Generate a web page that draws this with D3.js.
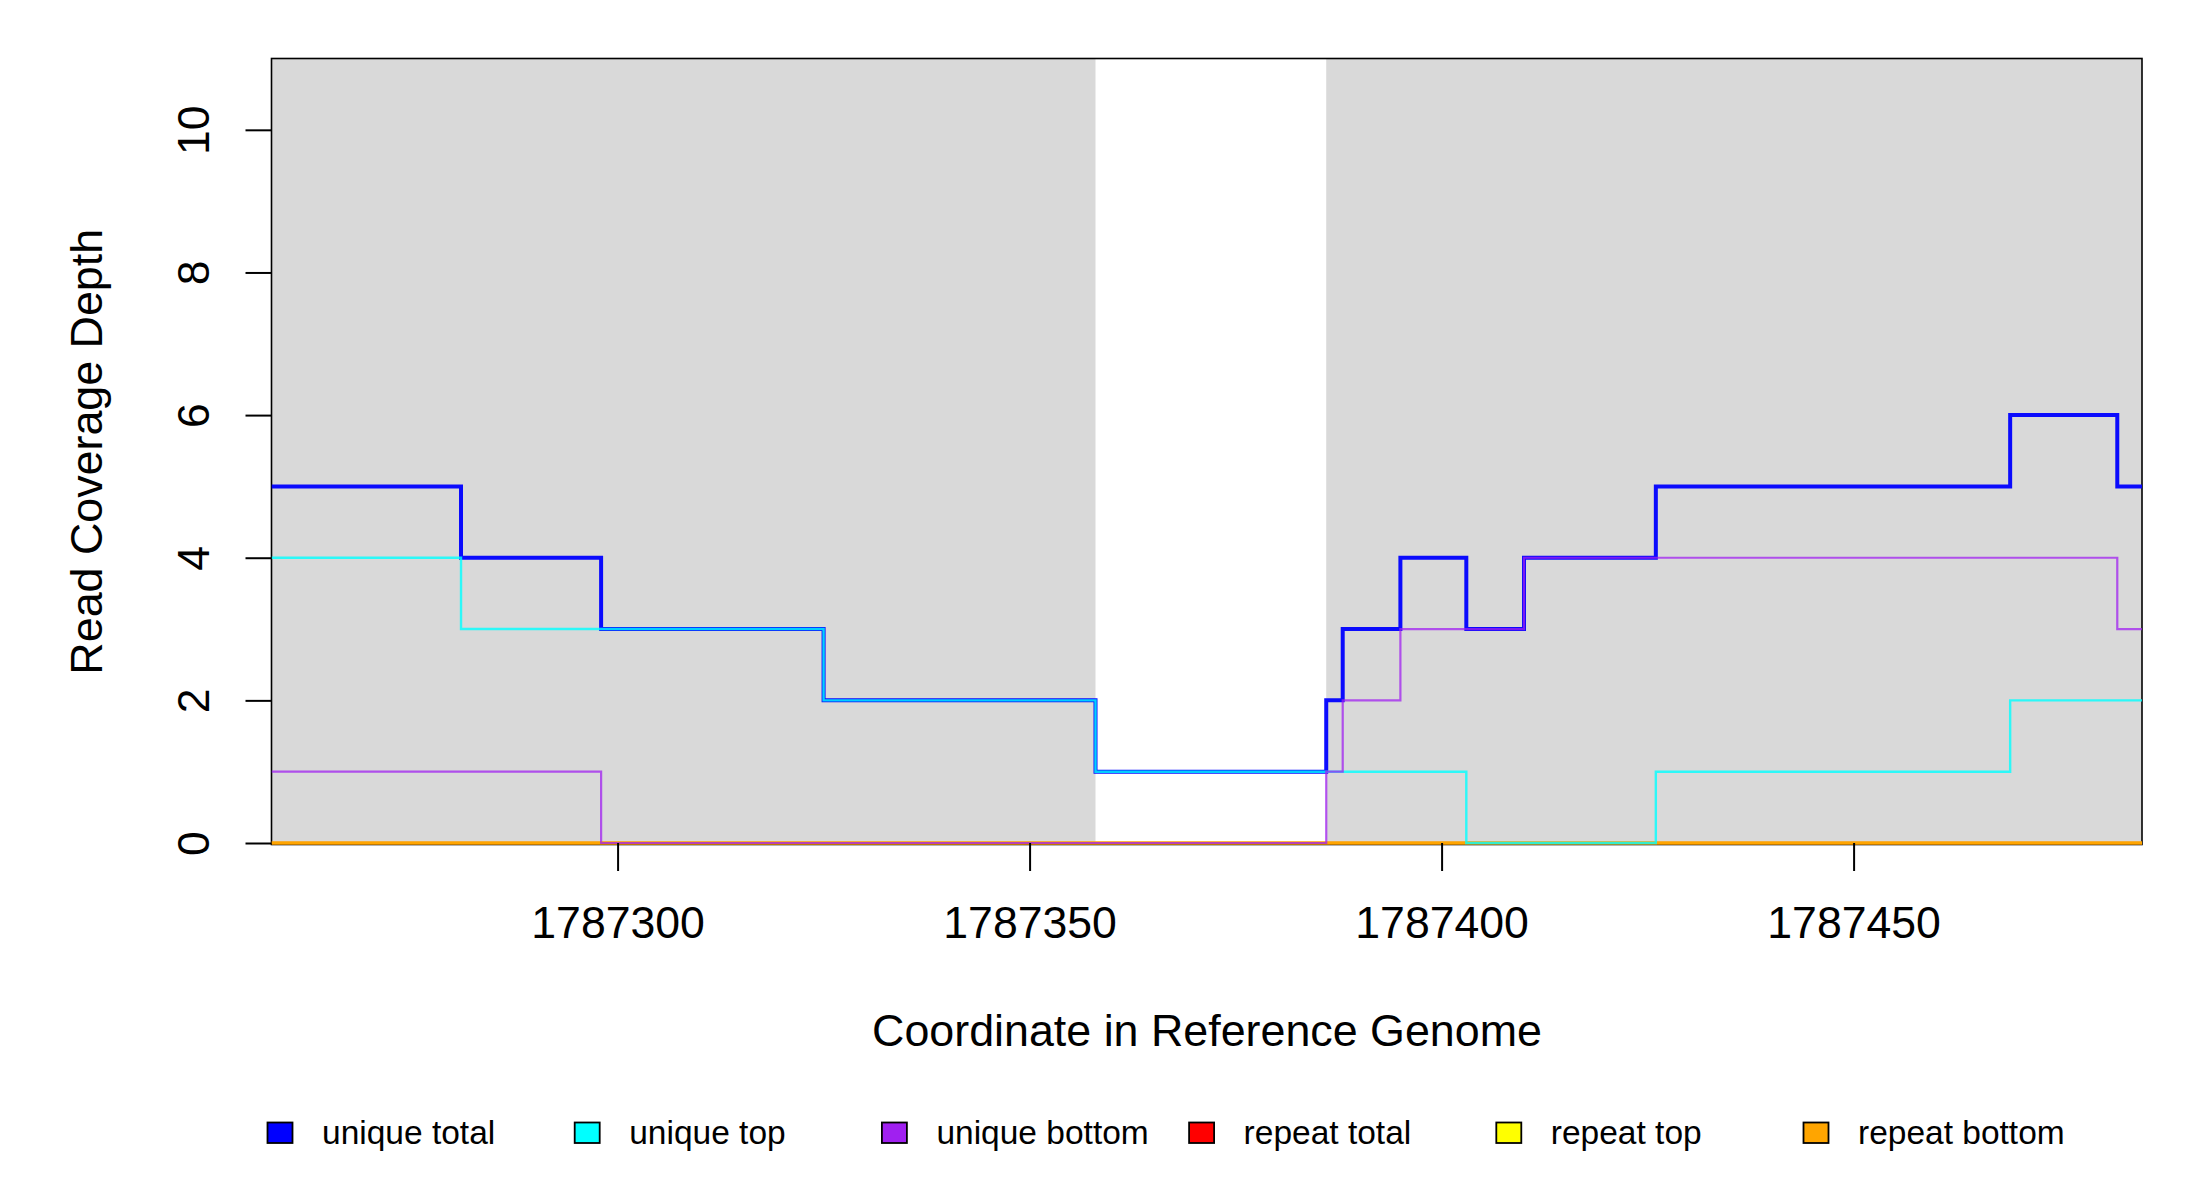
<!DOCTYPE html>
<html>
<head>
<meta charset="utf-8">
<script src="https://cdn.jsdelivr.net/npm/d3@7"></script>
<style>
  html, body { margin: 0; padding: 0; background: #fff; }
  svg { display: block; font-family: "Liberation Sans", Arial, sans-serif; }
</style>
</head>
<body>
<svg id="chart" width="2200" height="1200"></svg>
<script>
// ---- data ----
const breakpoints = [1787258, 1787281, 1787298, 1787325, 1787358, 1787386, 1787388, 1787395, 1787403, 1787410, 1787426, 1787469, 1787482, 1787485];
const uniqueTotal  = [5, 4, 3, 2, 1, 2, 3, 4, 3, 4, 5, 6, 5];
const uniqueTop    = [4, 3, 3, 2, 1, 1, 1, 1, 0, 0, 1, 2, 2];
const uniqueBottom = [1, 1, 0, 0, 0, 1, 2, 3, 3, 4, 4, 4, 3];
const repeatTotal  = [0, 0, 0, 0, 0, 0, 0, 0, 0, 0, 0, 0, 0];
const repeatTop    = [0, 0, 0, 0, 0, 0, 0, 0, 0, 0, 0, 0, 0];
const repeatBottom = [0, 0, 0, 0, 0, 0, 0, 0, 0, 0, 0, 0, 0];
const shadedStarts = [1787258, 1787386];
const shadedEnds   = [1787358, 1787485];
const xDomain = [1787258, 1787485];
const yDomain = [0, 11];
const xTicks = [1787300, 1787350, 1787400, 1787450];
const yTicks = [0, 2, 4, 6, 8, 10];
const seriesNames = ["unique total", "unique top", "unique bottom", "repeat total", "repeat top", "repeat bottom"];
const seriesColors = ["#0000FF", "#00FFFF", "#A020F0", "#FF0000", "#FFFF00", "#FFA500"];

// ---- layout ----
const L = 271.5, R = 2142, T = 58.5, B = 843;
const svg = d3.select("#chart");
const x = d3.scaleLinear().domain(xDomain).range([L, R]);
const y = d3.scaleLinear().domain(yDomain).range([B, T]);

svg.append("defs").append("clipPath").attr("id", "clip")
  .append("rect").attr("x", L).attr("y", T).attr("width", R - L).attr("height", B - T + 2);

// shaded regions
svg.append("g").selectAll("rect")
  .data(shadedStarts.map((s, i) => [s, shadedEnds[i]]))
  .join("rect")
  .attr("x", d => x(d[0]))
  .attr("width", d => x(d[1]) - x(d[0]))
  .attr("y", T).attr("height", B - T)
  .attr("fill", "#D9D9D9");

// box
svg.append("rect").attr("x", L).attr("y", T).attr("width", R - L).attr("height", B - T + 1.5)
  .attr("fill", "none").attr("stroke", "#000").attr("stroke-width", 1.6);

// lines
const line = d3.line().x(d => x(d[0])).y(d => y(d[1])).curve(d3.curveStepAfter);
function pts(vals) {
  const p = vals.map((v, i) => [breakpoints[i], v]);
  p.push([breakpoints[breakpoints.length - 1], vals[vals.length - 1]]);
  return p;
}
const series = [
  { vals: repeatTotal,  color: seriesColors[3], w: 3, op: 0.6 },
  { vals: repeatTop,    color: seriesColors[4], w: 3, op: 0.6 },
  { vals: repeatBottom, color: seriesColors[5], w: 3, op: 1 },
  { vals: uniqueTotal,  color: seriesColors[0], w: 4,   op: 0.95 },
  { vals: uniqueTop,    color: seriesColors[1], w: 2.4, op: 0.8 },
  { vals: uniqueBottom, color: seriesColors[2], w: 2.2, op: 0.75 }
];
const lg = svg.append("g").attr("clip-path", "url(#clip)");
series.forEach(s => {
  lg.append("path").attr("d", line(pts(s.vals)))
    .attr("fill", "none").attr("stroke", s.color)
    .attr("stroke-width", s.w).attr("stroke-opacity", s.op)
    .attr("stroke-linejoin", "miter").attr("stroke-linecap", "butt");
});

// y axis
const yAxis = svg.append("g").attr("transform", `translate(${L},0)`)
  .call(d3.axisLeft(y).tickValues(yTicks).tickSize(26).tickSizeOuter(0).tickFormat(d3.format("d")));
yAxis.select(".domain").remove();
yAxis.selectAll(".tick line").attr("stroke", "#000").attr("stroke-width", 2);
yAxis.selectAll(".tick text")
  .attr("x", null).attr("dy", null).attr("y", null)
  .attr("transform", "translate(-63,0) rotate(-90)")
  .attr("text-anchor", "middle")
  .attr("fill", "#000")
  .style("font-size", "44.6px")
  .style("font-family", "'Liberation Sans', Arial, sans-serif");

// x axis
const xAxis = svg.append("g").attr("transform", `translate(0,${B})`)
  .call(d3.axisBottom(x).tickValues(xTicks).tickSize(28).tickSizeOuter(0).tickFormat(d3.format("d")));
xAxis.select(".domain").remove();
xAxis.selectAll(".tick line").attr("stroke", "#000").attr("stroke-width", 2);
xAxis.selectAll(".tick text")
  .attr("y", 95).attr("dy", null)
  .attr("fill", "#000")
  .style("font-size", "44.6px")
  .style("font-family", "'Liberation Sans', Arial, sans-serif");

// axis titles
svg.append("text").attr("x", 1207).attr("y", 1046)
  .attr("text-anchor", "middle").style("font-size", "44.8px")
  .text("Coordinate in Reference Genome");
svg.append("text").attr("transform", `translate(102,${(T + B) / 2 + 1}) rotate(-90)`)
  .attr("text-anchor", "middle").style("font-size", "44.8px")
  .text("Read Coverage Depth");

// legend
const leg = svg.append("g");
const items = leg.selectAll("g").data(seriesNames).join("g")
  .attr("transform", (d, i) => `translate(${267.5 + i * 307.2},1122.5)`);
items.append("rect").attr("width", 25).attr("height", 20.5)
  .attr("fill", (d, i) => seriesColors[i]).attr("stroke", "#000").attr("stroke-width", 1.8);
items.append("text").attr("x", 54.5).attr("y", 21.5)
  .style("font-size", "33.5px").text(d => d);
</script>
</body>
</html>
